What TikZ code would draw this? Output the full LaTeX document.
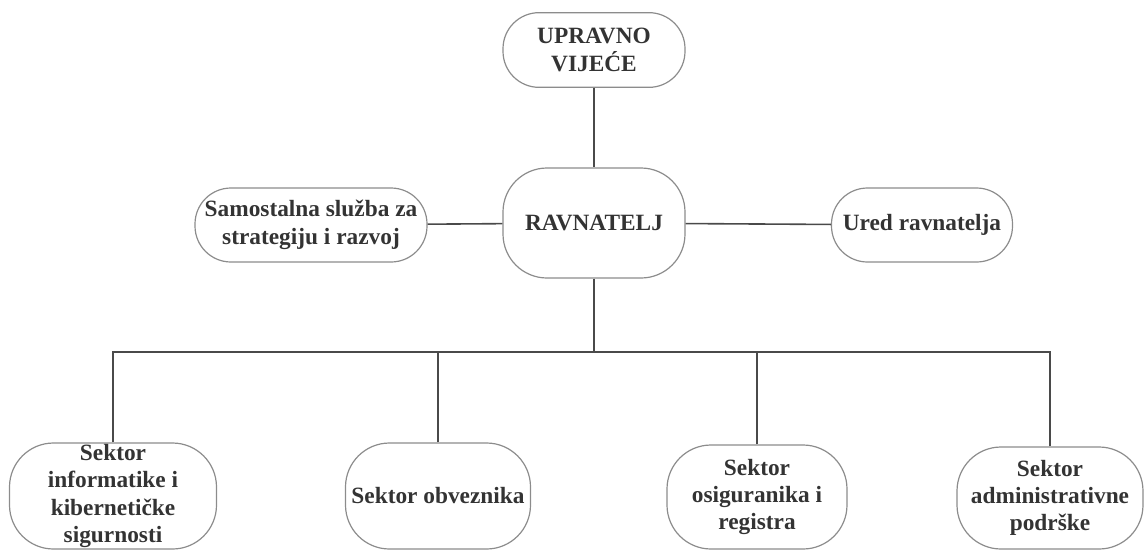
\documentclass[tikz,border=0pt]{standalone}
\usepackage{fontspec}
\setmainfont{Liberation Serif}
\definecolor{boxline}{HTML}{8C8C8C}
\definecolor{boxtext}{HTML}{333333}
\definecolor{wire}{HTML}{4A4A4A}
\tikzset{
  unit/.style={draw=boxline, line width=0.9pt, rounded corners=27pt, inner sep=0pt,
    align=center, text=boxtext, font=\fontsize{17.5}{20.5}\selectfont\bfseries},
  bigunit/.style={unit, rounded corners=33pt},
  wire/.style={draw=wire, line width=1.2pt},
}
\begin{document}
\begin{tikzpicture}[x=0.75pt, y=-0.75pt]
            \useasboundingbox (0, 0) rectangle (1146, 551);
            % Top level
            \node[unit, minimum width=136.5pt, minimum height=56pt] (vijece) at (594, 50) {UPRAVNO\\VIJEĆE};
            \node[bigunit, minimum width=136.5pt, minimum height=82.5pt] (ravnatelj) at (594, 223) {RAVNATELJ};
            % Side units
            \node[unit, minimum width=174pt, minimum height=55.5pt] (sluzba) at (311, 225) {Samostalna služba za\\strategiju i razvoj};
            \node[unit, minimum width=135.75pt, minimum height=55.5pt] (ured) at (922, 225) {Ured ravnatelja};

            % Sectors
            \node[bigunit, minimum width=155.25pt, minimum height=79.5pt] (informatika) at (113, 496) {Sektor\\informatike i\\kibernetičke\\sigurnosti};
            \node[bigunit, minimum width=138.75pt, minimum height=79.5pt] (obveznici) at (438, 496) {Sektor obveznika};
            \node[bigunit, minimum width=135pt, minimum height=78pt] (osiguranici) at (757, 497) {Sektor\\osiguranika i\\registra};
            \node[bigunit, minimum width=139.5pt, minimum height=76.5pt] (podrska) at (1050, 498) {Sektor\\administrativne\\podrške};

            % Branch point
            \coordinate (bus) at (594, 352);

            % Lines
            \draw[wire] (vijece) -- (ravnatelj);
            \draw[wire] (sluzba) -- (ravnatelj);
            \draw[wire] (ravnatelj) -- (ured);
            \draw[wire] (ravnatelj) -- (bus);
            \draw[wire] (informatika.north) |- (bus);
            \draw[wire] (obveznici.north) |- (bus);
            \draw[wire] (osiguranici.north) |- (bus);
            \draw[wire] (podrska.north) |- (bus);
        \end{tikzpicture}
\end{document}
